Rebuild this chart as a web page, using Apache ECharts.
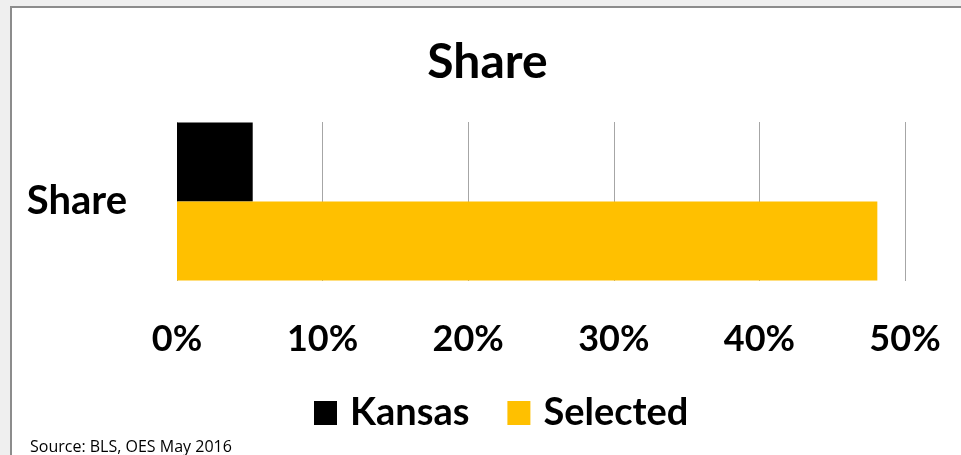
<!DOCTYPE html>
<html>
<head>
<meta charset="utf-8">
<script src="https://cdn.jsdelivr.net/npm/echarts@6/dist/echarts.min.js"></script>
<style>
  html, body { margin: 0; padding: 0; background: #efefef; overflow: hidden; }
  #frame {
    position: absolute; left: 10px; top: 6px;
    width: 951px; height: 449px;
    background: #fff;
    border-left: 2px solid #8c8c8c; border-top: 2px solid #8c8c8c;
  }
  #chart { width: 951px; height: 449px; }
</style>
</head>
<body>
<div id="frame"><div id="chart"></div></div>
<script>
// values (percent)
const categories = ['Share'];
const seriesNames = ['Kansas', 'Selected'];
const kansas = [5.2];
const selected = [48.1];
const tickMax = 50;
const tickStep = 10;

const FONT = 'Lato';
const chart = echarts.init(document.getElementById('chart'));

chart.setOption({
    animation: false,
    title: {
        text: 'Share',
        left: 'center',
        top: 26,
        textStyle: { fontFamily: FONT, fontWeight: 'bold', fontSize: 48, color: '#000' }
    },
    legend: {
        bottom: 20,
        left: 297,
        itemWidth: 23,
        itemHeight: 24,
        itemGap: 38,
        icon: 'rect',
        data: seriesNames,
        textStyle: { fontFamily: FONT, fontWeight: 'bold', fontSize: 38, color: '#000', padding: [0, 0, 0, 8] }
    },
    graphic: [{
        type: 'text',
        left: 18,
        bottom: 2,
        style: { text: 'Source: BLS, OES May 2016', font: '16px "Open Sans"', fill: '#000' }
    }],
    grid: { left: 165, right: 58, top: 114, height: 159 },
    xAxis: {
        type: 'value',
        min: 0,
        max: tickMax,
        interval: tickStep,
        axisLine: { show: false },
        axisTick: { show: false },
        splitLine: { lineStyle: { color: '#a6a6a6', width: 1 } },
        axisLabel: {
            margin: 40,
            formatter: '{value}%',
            fontFamily: FONT, fontWeight: 'bold', fontSize: 36, color: '#000'
        }
    },
    yAxis: {
        type: 'category',
        data: categories,
        inverse: true,
        axisLine: { show: false },
        axisTick: { show: false },
        axisLabel: {
            margin: 50,
            fontFamily: FONT, fontWeight: 'bold', fontSize: 40, color: '#000'
        }
    },
    series: [
        { name: 'Kansas', type: 'bar', data: kansas, barWidth: 79, barGap: '0%', itemStyle: { color: '#000000' } },
        { name: 'Selected', type: 'bar', data: selected, barWidth: 79, barGap: '0%', itemStyle: { color: '#FFC000' } }
    ]
});
</script>
</body>
</html>
